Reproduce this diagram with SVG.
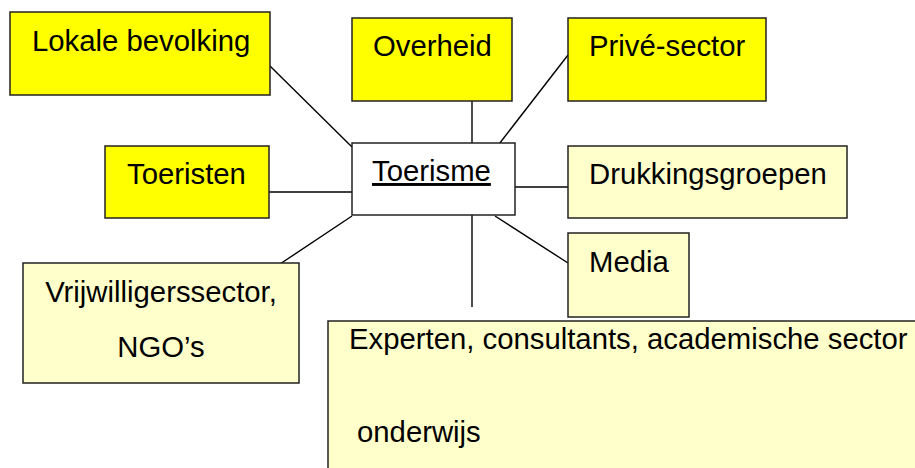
<svg xmlns="http://www.w3.org/2000/svg" width="915" height="468" viewBox="0 0 915 468">
<style>
.box{stroke:#222;stroke-width:1.5}
.y{fill:#FFFF00}
.ly{fill:#FFFFCC}
.w{fill:#FFFFFF}
text{font-family:"Liberation Sans",Arial,sans-serif;font-size:29.3px;fill:#000}
.c line{stroke:#000;stroke-width:1.4}
</style>
<rect width="915" height="468" fill="#fff"/>
<g class="c" id="connectors">
<line x1="270" y1="66" x2="352" y2="147"/>
<line x1="256" y1="192" x2="352" y2="192"/>
<line x1="352" y1="216" x2="280" y2="264"/>
<line x1="472" y1="99" x2="472" y2="147"/>
<line x1="568" y1="55" x2="496" y2="148"/>
<line x1="499" y1="187" x2="573" y2="187"/>
<line x1="495" y1="216" x2="568" y2="263"/>
<line x1="472" y1="215" x2="472" y2="307"/>
</g>
<g id="lokale"><rect class="box y" x="10" y="12" width="260" height="83"/><text x="32" y="51">Lokale bevolking</text></g>
<g id="overheid"><rect class="box y" x="352" y="18" width="160" height="83"/><text x="373" y="56">Overheid</text></g>
<g id="prive"><rect class="box y" x="568" y="18" width="198" height="83"/><text x="589" y="56">Privé-sector</text></g>
<g id="toeristen"><rect class="box y" x="105" y="146" width="164" height="72"/><text x="127" y="184">Toeristen</text></g>
<g id="toerisme"><rect class="box w" x="352" y="143" width="163" height="72"/><text x="372" y="181" text-decoration="underline">Toerisme</text></g>
<g id="drukkingsgroepen"><rect class="box ly" x="568" y="146" width="279" height="72"/><text x="589" y="184">Drukkingsgroepen</text></g>
<g id="media"><rect class="box ly" x="568" y="233" width="121" height="84"/><text x="589" y="272">Media</text></g>
<g id="vrijwilligers"><rect class="box ly" x="23" y="263" width="276" height="120"/><text x="161" y="302" text-anchor="middle">Vrijwilligerssector,</text><text x="161" y="357" text-anchor="middle">NGO’s</text></g>
<g id="experten"><rect class="box ly" x="328" y="321" width="600" height="160"/><text x="349" y="349">Experten, consultants, academische sector</text><text x="357" y="442">onderwijs</text></g>
</svg>
